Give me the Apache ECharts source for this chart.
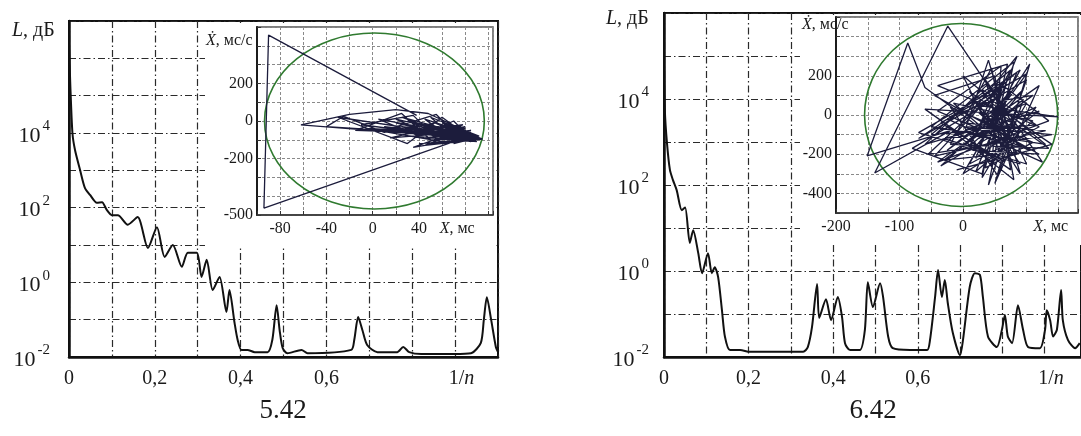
<!DOCTYPE html>
<html><head><meta charset="utf-8">
<script src="https://cdn.jsdelivr.net/npm/echarts@6/dist/echarts.min.js"></script>
<style>html,body{margin:0;padding:0;background:#fff}#c{width:1081px;height:436px}</style>
</head><body><div id="c"></div>
<script>
// ---- spectrum 5.42 (x = 1/n, L in dB, log scale) ----
const spec542X = [0, 0.003, 0.008, 0.014, 0.026, 0.037, 0.049, 0.065, 0.077, 0.088, 0.1, 0.114, 0.137, 0.16, 0.184, 0.205, 0.223, 0.242, 0.263, 0.277, 0.298, 0.309, 0.321, 0.335, 0.351, 0.367, 0.374, 0.386, 0.393, 0.402, 0.416, 0.433, 0.463, 0.474, 0.484, 0.491, 0.498, 0.509, 0.542, 0.556, 0.658, 0.665, 0.674, 0.684, 0.695, 0.719, 0.765, 0.779, 0.793, 0.821, 0.898, 0.937, 0.96, 0.967, 0.974, 0.984, 0.995, 1.0];
const spec542L = [2.5e6, 2e5, 1e4, 3500, 1000, 340, 220, 135, 140, 87, 63, 63, 35, 56, 8.3, 30, 4.8, 10, 2.6, 6.2, 6.2, 1.4, 4, 0.62, 1.4, 0.16, 0.62, 0.081, 0.029, 0.0155, 0.0155, 0.0135, 0.0135, 0.029, 0.245, 0.052, 0.0174, 0.0126, 0.0155, 0.0126, 0.0155, 0.029, 0.117, 0.052, 0.021, 0.0135, 0.0135, 0.0186, 0.0135, 0.012, 0.012, 0.0126, 0.024, 0.1, 0.4, 0.1, 0.0186, 0.0135];
// ---- spectrum 6.42 ----
const spec642X = [0, 0.002, 0.007, 0.014, 0.021, 0.03, 0.042, 0.05, 0.061, 0.069, 0.081, 0.09, 0.104, 0.113, 0.12, 0.128, 0.137, 0.144, 0.156, 0.18, 0.203, 0.329, 0.34, 0.35, 0.362, 0.367, 0.383, 0.395, 0.411, 0.421, 0.428, 0.44, 0.463, 0.475, 0.482, 0.494, 0.511, 0.518, 0.53, 0.541, 0.582, 0.622, 0.629, 0.641, 0.648, 0.657, 0.664, 0.671, 0.683, 0.7, 0.707, 0.723, 0.735, 0.747, 0.754, 0.766, 0.787, 0.799, 0.806, 0.813, 0.823, 0.837, 0.849, 0.861, 0.889, 0.901, 0.905, 0.913, 0.92, 0.929, 0.939, 0.943, 0.955, 0.972, 0.983];
const spec642L = [9.5e4, 5.5e3, 955, 224, 132, 76, 26, 30, 4.5, 8.9, 2.6, 0.89, 2.6, 0.89, 1.23, 0.72, 0.123, 0.03, 0.0145, 0.0145, 0.0132, 0.0132, 0.017, 0.05, 0.5, 0.081, 0.22, 0.072, 0.25, 0.085, 0.021, 0.0145, 0.0145, 0.043, 0.55, 0.145, 0.52, 0.25, 0.03, 0.016, 0.0145, 0.0145, 0.025, 0.25, 1.05, 0.25, 0.62, 0.18, 0.036, 0.011, 0.025, 0.43, 0.89, 0.81, 0.25, 0.03, 0.017, 0.043, 0.095, 0.03, 0.021, 0.16, 0.043, 0.017, 0.016, 0.043, 0.123, 0.072, 0.03, 0.043, 0.36, 0.072, 0.025, 0.016, 0.021];
// ---- phase portrait 5.42 (X, ms ; Xdot, ms/s) ----
const phase542X = [38, -90, -94, 33, 70, 95, -62, -20, 20, 48, 90, -40, -25, 10, 55, 95, -30, 30, 60, 80, -15, 25, 50, 92, 5, 40, 70, 85, -10, 35, 60, 95, 15, 55, 75, 20, 65, 90, 30, 70, 45, 80, 95, 55, 85, 60, 90, 70, 95, 40, 88, 25, 75, 50, 92, 35, 80, 60, 95, 45, 85, 70, 90, 55, 95,
  30, 85, 10, 70, 45, 95, 20, 60, 80, 35, 90, 50, 75, 15, 65, 88, 40, 95, 25, 70, 55, 85, -5, 60, 92, 30, 78, 50, 95, 68, 42, 86, 58, 95];
const phase542V = [30, 457, -463, -190, -110, -96, -21, 35, 60, 40, -80, -30, 25, -60, -10, -96, 20, -120, 20, -70, -50, 40, -100, -90, 10, -80, 0, -95, -20, 30, -120, -96, -40, 35, -90, -10, -50, -85, 0, -100, 10, -60, -96, -70, -50, -90, -100, -60, -96, -60, -70, -30, -110, 20, -80, -140, -40, -10, -96, -90, -60, -120, -90, -40, -96,
  -40, -110, -30, -70, -130, -96, 10, -100, -30, -80, -110, 0, -60, -90, -20, -100, -120, -96, 20, -80, -50, -70, -40, -110, -90, -60, -20, -120, -96, -90, -30, -80, -50, -96];
// ---- phase portrait 6.42 ----
const phase642X = [20, -60, -87, -151, -20, -139, -24, 50, -70, 90, 10, 120, -40, 70, 30, -80, 100, 40, 80, -50, 130, 0, 60, -30, 110, 20, 150, -60, 75, 45, -20, 135, 10, 90, -70, 60, 30, 100, -10, 80, 50, -45, 120, 15, 95, -35, 70, 40, 5, 140, -55, 85, 20, 110, -15, 65, 35, 125, -25, 55, 90, 0, 75, 30, 105, -40, 60, 45, 115, 10, 80, 25,
  60, -30, 100, 40, -60, 120, 20, 85, 0, 130, -45, 70, 35, 110, -20, 55, 95, 10, 75, -50, 115, 30, 85, -10, 140, 45, 65, -35, 100, 25, 80, 50, 120, -25, 60, 90, 15, 70, 105, 40, -40, 135, 55, 20, 95, 30];
const phase642V = [-50, 140, 367, -209, -80, -296, 454, 100, -120, 230, -250, -60, 150, 260, -300, -170, 180, -357, 270, -60, -150, 200, -200, -230, 100, 50, -10, 30, -280, 240, -150, -170, 120, -250, -90, 150, -320, 60, -100, -330, 200, 100, -200, -180, 130, -260, -60, 280, -60, -100, -200, 220, -290, -30, 60, -160, 180, -240, -20, 90, -120, -300, 120, -30, -180, 20, 250, -250, 40, -120, -40, 10,
  -80, -120, -250, 160, -150, 20, -220, 300, -40, -80, -210, 190, -270, -140, 40, -310, 80, -160, 230, -100, -50, 130, -200, -280, -150, 60, -240, -40, 210, -120, -10, -350, 150, -180, 40, -300, 90, -130, 260, -60, -240, -30, 170, -100, -170, 0];
// limit ellipses: [centre X, centre Xdot, radius X, radius Xdot]
const limit542 = [1.5, 0, 95, 468];
const limit642 = [-3, 0, 152, 467];
// tick labels
const mainTickValues = [0, 0.2, 0.4, 0.6, 0.915];
const mainTickLabels = ['0', '0,2', '0,4', '0,6', '1/{i|n}'];
const ins542XTicks = [-80, -40, 0, 40, 73];
const ins542XLabels = ['-80', '-40', '0', '40', '{i|X}, мс'];
const ins542VTicks = [200, 0, -200, -500];
const ins642XTicks = [-200, -100, 0, 138];
const ins642XLabels = ['-200', '-100', '0', '{i|X}, мс'];
const ins642VTicks = [200, 0, -200, -400];
const captions = ['5.42', '6.42'];

const SERIF = '"Liberation Serif","DejaVu Serif","Times New Roman",serif';
const zip = (a, b) => a.map((v, i) => [v, b[i]]);
const dashDot = { show: true, lineStyle: { color: '#2a2a2a', width: 1.2, type: [7, 3, 1.5, 3] } };

function lookup(values, labels) {
  return v => { const k = values.findIndex(x => Math.abs(x - v) < 1e-6); return k >= 0 ? labels[k] : ''; };
}
function decadeLabel(v) {
  const e = Math.round(Math.log10(v));
  if (e % 2 !== 0 || e > 4) return '';
  return '{b|10}{s|' + e + '}';
}
const decRich = {
  b: { fontFamily: SERIF, fontSize: 22, color: '#1a1a1a', verticalAlign: 'bottom' },
  s: { fontFamily: SERIF, fontSize: 15, color: '#1a1a1a', verticalAlign: 'bottom', padding: [0, 0, 13, 2] }
};

function mainX(grid, max) {
  return {
    gridIndex: grid, type: 'value', min: 0, max: max, interval: 0.1,
    axisLine: { lineStyle: { color: '#111', width: 2.5 } }, axisTick: { show: false },
    splitLine: dashDot,
    axisLabel: { customValues: mainTickValues, formatter: lookup(mainTickValues, mainTickLabels),
      fontFamily: SERIF, fontSize: 20, color: '#1a1a1a', margin: 12,
      rich: { i: { fontStyle: 'italic', fontFamily: SERIF, fontSize: 20, color: '#1a1a1a' } } }
  };
}
function mainY(grid, max, margin) {
  return {
    gridIndex: grid, type: 'log', logBase: 10, min: 0.01, max: max, interval: 1, splitNumber: 9,
    axisLine: { show: true, lineStyle: { color: '#111', width: 2.5 } }, axisTick: { show: false },
    splitLine: dashDot, minorSplitLine: { show: false },
    axisLabel: { formatter: decadeLabel, rich: decRich, margin: margin, showMinLabel: true, showMaxLabel: false }
  };
}
function insetX(grid, min, max, interval, ticks, labels) {
  return {
    gridIndex: grid, type: 'value', min: min, max: max, interval: interval, z: 4,
    axisLine: { onZero: false, lineStyle: { color: '#333', width: 1.5 } },
    axisTick: { show: true, length: -4, lineStyle: { color: '#333' } },
    splitLine: { show: true, lineStyle: { color: '#8a8a8a', width: 1, type: [3, 2] } },
    axisLabel: { customValues: ticks, formatter: lookup(ticks, labels), fontFamily: SERIF, fontSize: 16,
      color: '#1a1a1a', margin: 6, rich: { i: { fontStyle: 'italic', fontFamily: SERIF, fontSize: 16, color: '#1a1a1a' } } }
  };
}
function insetY(grid, ticks) {
  return {
    gridIndex: grid, type: 'value', min: -500, max: 500, interval: 100, z: 4,
    axisLine: { show: true, onZero: false, lineStyle: { color: '#111', width: 1.8 } },
    axisTick: { show: true, length: -4, lineStyle: { color: '#333' } },
    splitLine: { show: true, lineStyle: { color: '#8a8a8a', width: 1, type: [3, 2] } },
    axisLabel: { customValues: ticks, formatter: v => String(Math.round(v)), fontFamily: SERIF, fontSize: 16, color: '#1a1a1a', margin: 4 }
  };
}
function ellipseSeries(xi, data) {
  return {
    type: 'custom', xAxisIndex: xi, yAxisIndex: xi, z: 6, silent: true,
    dimensions: ['x', 'y', 'rx', 'ry'], encode: { x: 0, y: 1 },
    data: [data],
    renderItem: (params, api) => {
      const c = api.coord([api.value(0), api.value(1)]);
      const e = api.coord([api.value(0) + api.value(2), api.value(1) + api.value(3)]);
      return { type: 'ellipse', shape: { cx: c[0], cy: c[1], rx: Math.abs(e[0] - c[0]), ry: Math.abs(e[1] - c[1]) },
        style: { fill: 'none', stroke: '#2f7a2f', lineWidth: 1.6 } };
    }
  };
}
function labelText(x, y, txt, size, align) {
  return { type: 'text', x: x, y: y, z: 10,
    style: { text: txt, fill: '#1a1a1a', font: size + 'px ' + SERIF, fontSize: size, fontFamily: SERIF,
      align: align || 'left', verticalAlign: 'middle', textAlign: align || 'left', textVerticalAlign: 'middle',
      rich: { i: { fontStyle: 'italic', fontSize: size, fontFamily: SERIF, fill: '#1a1a1a' },
              r: { fontSize: size, fontFamily: SERIF, fill: '#1a1a1a' } } } };
}

const chart = echarts.init(document.getElementById('c'), null, { renderer: 'canvas' });
chart.setOption({
  animation: false,
  backgroundColor: '#fff',
  grid: [
    { left: 69, top: 21, width: 429, height: 336, show: true, borderColor: '#111', borderWidth: 2, backgroundColor: 'transparent', outerBoundsMode: 'none' },
    { left: 664, top: 13, width: 417, height: 344, show: true, borderColor: '#111', borderWidth: 2, backgroundColor: 'transparent', outerBoundsMode: 'none' },
    { left: 257, top: 27, width: 236, height: 188, show: true, borderColor: '#555', borderWidth: 1.5, backgroundColor: 'transparent', z: 4, outerBoundsMode: 'none' },
    { left: 836, top: 17, width: 242, height: 196, show: true, borderColor: '#555', borderWidth: 1.5, backgroundColor: 'transparent', z: 4, outerBoundsMode: 'none' }
  ],
  xAxis: [
    mainX(0, 1.0),
    mainX(1, 0.986),
    insetX(2, -100, 104, 20, ins542XTicks, ins542XLabels),
    insetX(3, -200, 181, 50, ins642XTicks, ins642XLabels)
  ],
  yAxis: [
    mainY(0, 1e7, 19),
    mainY(1, 1e6, 15),
    insetY(2, ins542VTicks),
    insetY(3, ins642VTicks)
  ],
  graphic: [
    { type: 'rect', z: 1, shape: { x: 205, y: 23, width: 291, height: 223 }, style: { fill: '#fff' } },
    { type: 'rect', z: 1, shape: { x: 800, y: 15, width: 281, height: 230 }, style: { fill: '#fff' } },
    labelText(12, 31, '{i|L}{r|, дБ}', 20),
    labelText(606, 19, '{i|L}{r|, дБ}', 20),
    labelText(206, 41, '{i|Ẋ}{r|, мс/с}', 16),
    labelText(802, 25, '{i|Ẋ}{r|, мс/с}', 16),
    labelText(283, 411, captions[0], 27, 'center'),
    labelText(873, 411, captions[1], 27, 'center')
  ],
  series: [
    { type: 'line', xAxisIndex: 0, yAxisIndex: 0, data: zip(spec542X, spec542L), showSymbol: false, smooth: 0.25, z: 3,
      lineStyle: { color: '#111', width: 2 } },
    { type: 'line', xAxisIndex: 1, yAxisIndex: 1, data: zip(spec642X, spec642L), showSymbol: false, smooth: 0.25, z: 3,
      lineStyle: { color: '#111', width: 2 } },
    ellipseSeries(2, limit542),
    ellipseSeries(3, limit642),
    { type: 'line', xAxisIndex: 2, yAxisIndex: 2, data: zip(phase542X, phase542V), showSymbol: false, z: 7,
      lineStyle: { color: '#1c1c3c', width: 1.3 } },
    { type: 'line', xAxisIndex: 3, yAxisIndex: 3, data: zip(phase642X, phase642V), showSymbol: false, z: 7,
      lineStyle: { color: '#1c1c3c', width: 1.3 } }
  ]
});
</script>
</body></html>
